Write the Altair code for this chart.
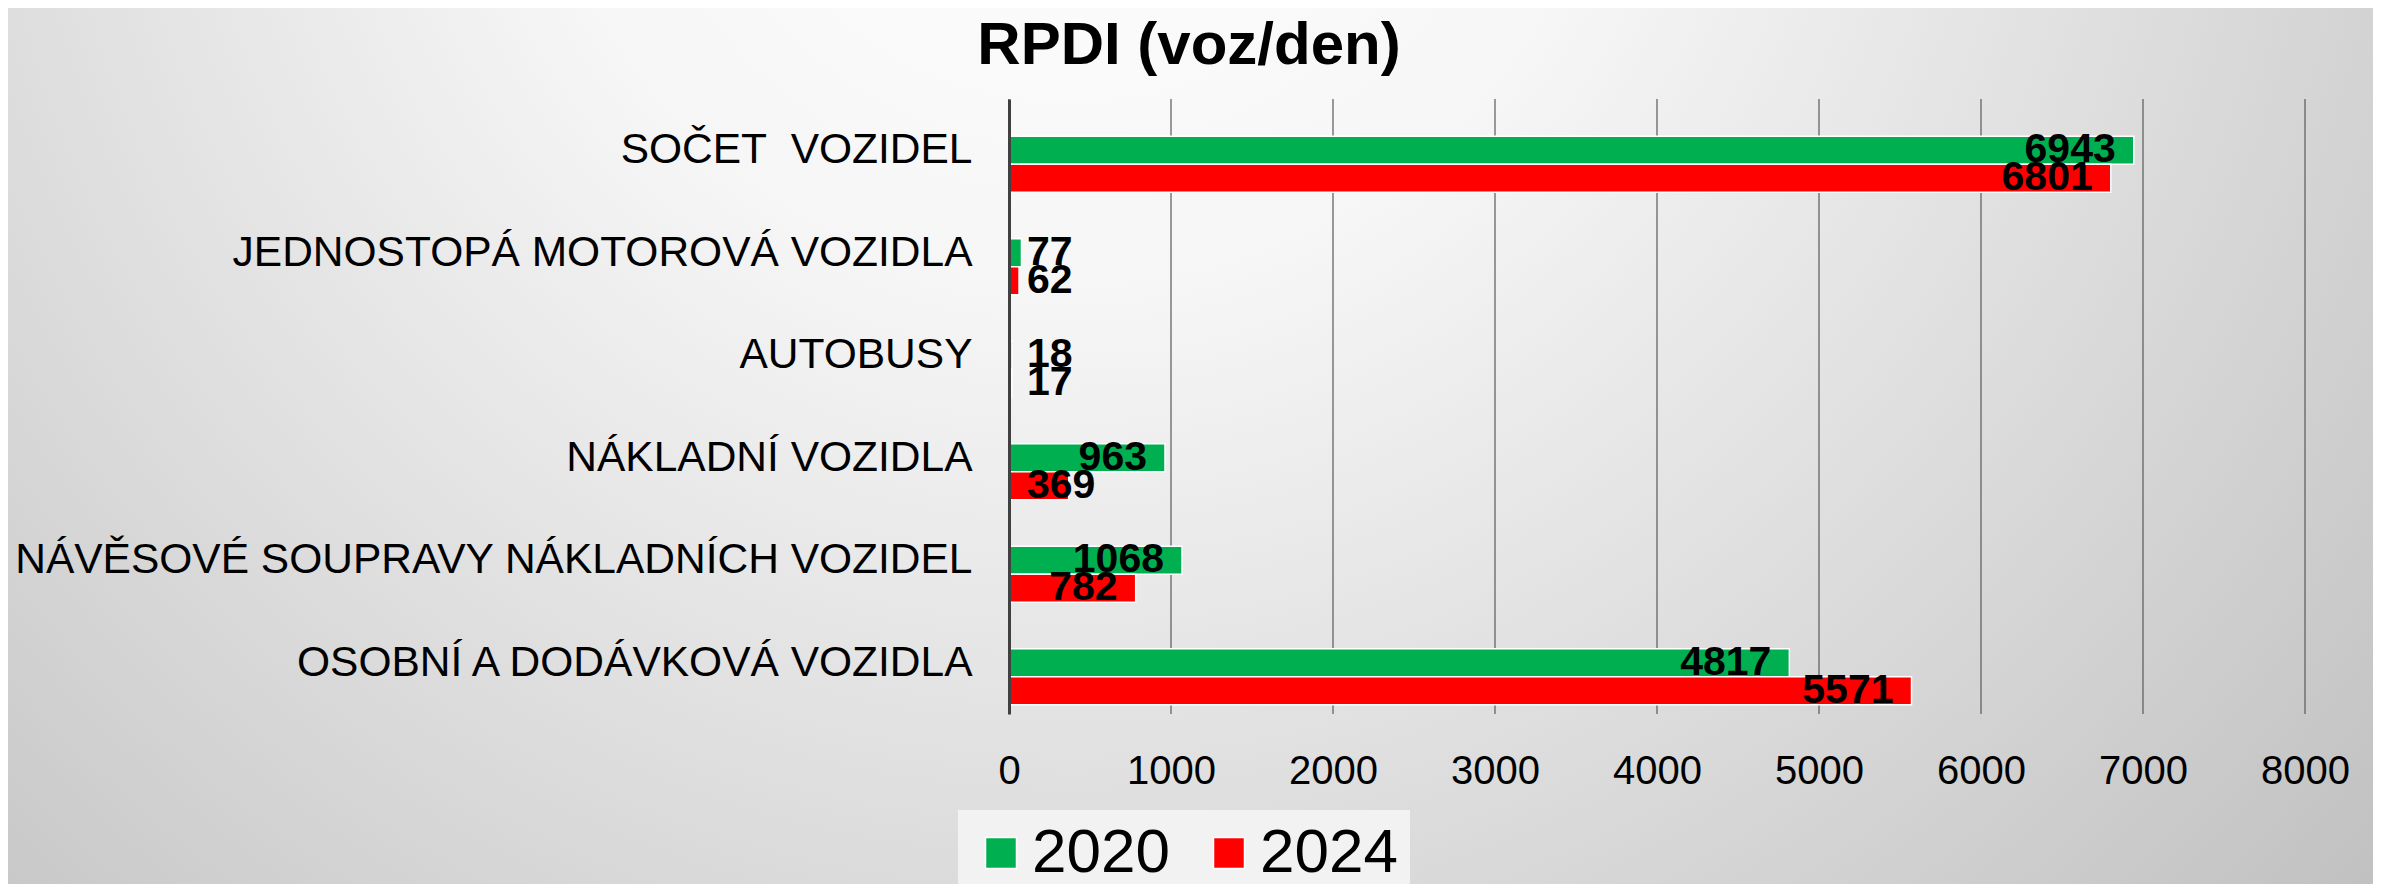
import altair as alt
import pandas as pd

categories = [
    "SOČET\u00a0 VOZIDEL",
    "JEDNOSTOPÁ MOTOROVÁ VOZIDLA",
    "AUTOBUSY",
    "NÁKLADNÍ VOZIDLA",
    "NÁVĚSOVÉ SOUPRAVY NÁKLADNÍCH VOZIDEL",
    "OSOBNÍ A DODÁVKOVÁ VOZIDLA",
]
years = ["2020", "2024"]
values_2020 = [6943, 77, 18, 963, 1068, 4817]
values_2024 = [6801, 62, 17, 369, 782, 5571]
x_ticks = [0, 1000, 2000, 3000, 4000, 5000, 6000, 7000, 8000]
colors = ["#00b050", "#ff0000"]

rows = []
for c, a, b in zip(categories, values_2020, values_2024):
    rows.append({"category": c, "year": years[0], "value": a})
    rows.append({"category": c, "year": years[1], "value": b})
df = pd.DataFrame(rows)

W, H = 1296, 615
PAD = {"left": 1001, "top": 91, "right": 68, "bottom": 170}
FONT = "Liberation Sans"

y_enc = alt.Y(
    "category:N",
    sort=categories,
    scale=alt.Scale(paddingInner=0, paddingOuter=0),
    axis=alt.Axis(
        title=None, labelFontSize=42.5, labelColor="black", labelFont=FONT,
        ticks=False, domain=True, domainColor="#404040", domainWidth=3,
        labelPadding=37, grid=False, zindex=1, labelLimit=1500,
    ),
)
yoff_enc = alt.YOffset(
    "year:N", sort=years,
    scale=alt.Scale(paddingInner=0, paddingOuter=0.83, align=0.8),
)
x_scale = alt.Scale(domain=[0, 8000], nice=False)
x_enc = alt.X(
    "value:Q", scale=x_scale,
    axis=alt.Axis(
        values=x_ticks, format="d", title=None, grid=False, domain=False,
        ticks=False, labelFontSize=40, labelPadding=37, labelColor="black",
        labelFont=FONT, zindex=1, labelFlush=False,
    ),
)

gradient = {
    "gradient": "radial",
    "x1": 0.45, "y1": 0.2, "r1": 0,
    "x2": 0.45, "y2": 0.2, "r2": 0.78,
    "stops": [
        {"offset": 0.0, "color": "#ffffff"},
        {"offset": 0.3, "color": "#f6f6f6"},
        {"offset": 1.0, "color": "#bcbcbc"},
    ],
}
bg = alt.Chart(pd.DataFrame({"a": [0]})).mark_rect(fill=gradient).encode(
    x=alt.value(-PAD["left"]), x2=alt.value(W + PAD["right"]),
    y=alt.value(-PAD["top"]), y2=alt.value(H + PAD["bottom"]),
)

grid = alt.Chart(pd.DataFrame({"t": x_ticks})).mark_rule(
    color="#595959", strokeWidth=1.2
).encode(x=alt.X("t:Q", scale=x_scale))

bars = alt.Chart(df).mark_bar(stroke="white", strokeWidth=1.5).encode(
    x=x_enc,
    y=y_enc,
    yOffset=yoff_enc,
    color=alt.Color(
        "year:N",
        scale=alt.Scale(domain=years, range=colors),
        legend=alt.Legend(
            title=None, orient="none", legendX=-51, legendY=711,
            direction="horizontal", symbolType="square", symbolSize=961,
            labelFontSize=62, labelFont=FONT, labelColor="black",
            fillColor="#f2f2f2", padding=12, columnPadding=28,
            labelOffset=0, symbolStrokeColor="white", symbolStrokeWidth=1.5,
            symbolOpacity=1, labelLimit=400,
        ),
    ),
)

text = alt.Chart(df).transform_calculate(
    lx="max(datum.value, (36 + length(toString(datum.value)) * 22.8) / 0.162)"
).mark_text(
    align="right", baseline="middle", dx=-18, fontSize=41,
    fontWeight="bold", color="black", font=FONT,
).encode(
    x=alt.X("lx:Q", scale=x_scale),
    y=y_enc,
    yOffset=yoff_enc,
    text="value:Q",
)

chart = alt.layer(bg, grid, bars, text).properties(
    width=W, height=H,
    padding=PAD,
    autosize="none",
    title=alt.Title(
        "RPDI (voz/den)", fontSize=60, fontWeight="bold", font=FONT,
        color="black", anchor="middle", dx=-468, offset=-116,
        baseline="alphabetic",
    ),
).configure(font=FONT).configure_view(stroke=None)

chart.save("out.html", embed_options={"renderer": "svg", "actions": False})
